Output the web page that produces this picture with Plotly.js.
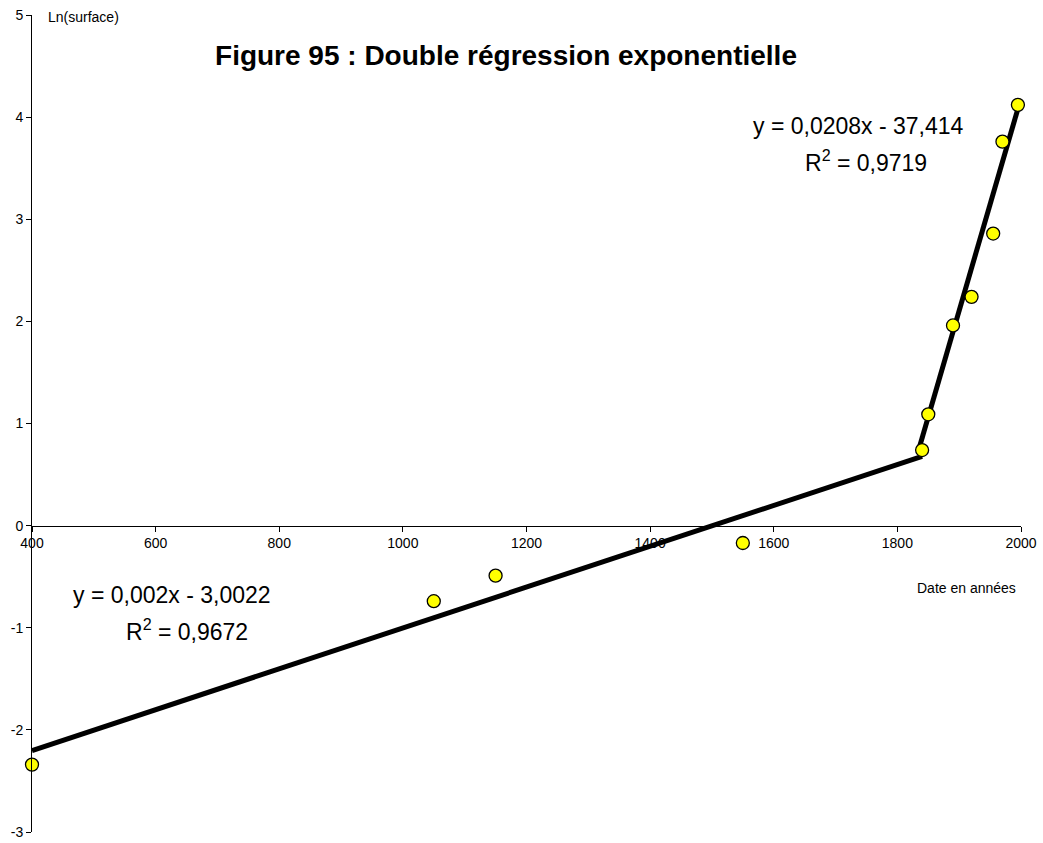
<!DOCTYPE html>
<html><head><meta charset="utf-8">
<script src="https://cdn.plot.ly/plotly-3.0.1.min.js"></script>
<style>body{margin:0;background:#fff}#c{width:1043px;height:843px}</style>
</head><body><div id="c"></div>
<script>
const years = [400, 1050, 1150, 1550, 1840, 1850, 1890, 1920, 1955, 1970, 1995];
const lnSurface = [-2.34, -0.74, -0.49, -0.17, 0.74, 1.09, 1.96, 2.24, 2.86, 3.76, 4.12];
const xTickVals = [400, 600, 800, 1000, 1200, 1400, 1600, 1800, 2000];
const yTickVals = [-3, -2, -1, 0, 1, 2, 3, 4, 5];
const yTickText = ["-3", "-2", "-1", "0", "1", "2", "3", "4", "5"];
const fit1 = {slope: 0.002, intercept: -3.0022, from: 400, to: 1840, label: "y = 0,002x - 3,0022", r2: "R<sup>2</sup> = 0,9672"};
const fit2 = {slope: 0.0208, intercept: -37.414, from: 1836, to: 1995, label: "y = 0,0208x - 37,414", r2: "R<sup>2</sup> = 0,9719"};

function fitTrace(f){
  const xs=[f.from,f.to];
  return {x:xs, y:xs.map(v=>f.slope*v+f.intercept), mode:'lines', type:'scatter',
    line:{color:'#000',width:5}, hoverinfo:'skip', showlegend:false};
}
const font = "Liberation Sans, Arial, sans-serif";
const data = [fitTrace(fit1), fitTrace(fit2),
  {x:years, y:lnSurface, mode:'markers', type:'scatter', showlegend:false, cliponaxis:false,
   marker:{color:'#FFFF00', size:13, line:{color:'#000', width:1.3}}}];
const px = v => (v-32)/989, py = v => (832-v)/817;
const layout = {
  width:1043, height:843, paper_bgcolor:'#fff', plot_bgcolor:'#fff',
  margin:{l:32, r:22, t:15, b:11},
  font:{family:font, color:'#000', size:14},
  title:{text:'<b>Figure 95 : Double régression exponentielle</b>', font:{size:28, family:font, color:'#000'},
    x:506/1043, xref:'container', xanchor:'center', y:1-55/843, yref:'container', yanchor:'middle'},
  xaxis:{range:[400,2000], tickvals:xTickVals, ticktext:xTickVals.map(String), showgrid:false, zeroline:false, showline:true,
    linecolor:'#000', linewidth:1, ticks:'outside', ticklen:5, tickcolor:'#000',
    anchor:'free', position:0.375, tickfont:{size:14}},
  yaxis:{range:[-3,5], tickvals:yTickVals, ticktext:yTickText, showgrid:false, zeroline:false, showline:true,
    linecolor:'#000', linewidth:1, ticks:'outside', ticklen:5, tickcolor:'#000', tickfont:{size:14}},
  annotations:[
    {text:'Ln(surface)', xref:'paper', yref:'paper', x:px(46), y:py(17), xanchor:'left', yanchor:'middle', showarrow:false, font:{size:14}},
    {text:'Date en années', xref:'paper', yref:'paper', x:px(1018), y:py(588), xanchor:'right', yanchor:'middle', showarrow:false, font:{size:14}},
    {text:fit2.label, xref:'paper', yref:'paper', x:px(858), y:py(126), xanchor:'center', yanchor:'middle', showarrow:false, font:{size:23}},
    {text:fit2.r2, xref:'paper', yref:'paper', x:px(866), y:py(161), xanchor:'center', yanchor:'middle', showarrow:false, font:{size:23}},
    {text:fit1.label, xref:'paper', yref:'paper', x:px(172), y:py(595), xanchor:'center', yanchor:'middle', showarrow:false, font:{size:23}},
    {text:fit1.r2, xref:'paper', yref:'paper', x:px(187), y:py(630), xanchor:'center', yanchor:'middle', showarrow:false, font:{size:23}}
  ]
};
Plotly.newPlot('c', data, layout, {displayModeBar:false, staticPlot:true});
</script></body></html>
